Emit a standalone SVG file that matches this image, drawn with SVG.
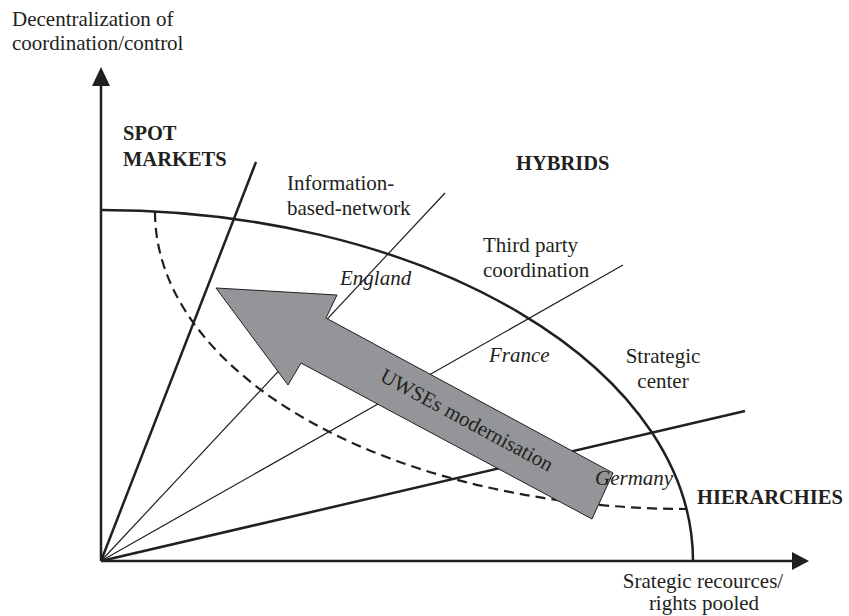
<svg xmlns="http://www.w3.org/2000/svg" width="849" height="616" viewBox="0 0 849 616">
<style>
text{font-family:"Liberation Serif","Times New Roman",serif;font-size:21px;fill:#231f20}
.b{font-weight:bold;font-size:20.5px}
.i{font-style:italic}
.m{text-anchor:middle}
.thick{stroke:#231f20;stroke-width:2.5;fill:none}
.thin{stroke:#231f20;stroke-width:1.2;fill:none}
.dash{stroke:#231f20;stroke-width:2.2;fill:none;stroke-dasharray:10 6}
</style>
<rect width="849" height="616" fill="#fff"/>
<g id="connectors">
  <line class="thick" x1="101" y1="561" x2="101" y2="84"/>
  <polygon points="101,67 92,86 110,86" fill="#231f20"/>
  <line class="thick" x1="101" y1="561" x2="793" y2="561"/>
  <polygon points="809,561 792,552 792,570" fill="#231f20"/>
  <line class="thick" x1="101" y1="561" x2="256" y2="162"/>
  <line class="thin" x1="101" y1="561" x2="445" y2="193"/>
  <line class="thin" x1="101" y1="561" x2="623" y2="265"/>
  <line class="thick" x1="101" y1="561" x2="745" y2="411"/>
  <path class="thick" d="M101,210 A592,351 0 0 1 693,561"/>
  <path class="dash" d="M155,212 A532,297 0 0 0 687,509"/>
</g>
<g id="big-arrow">
  <polygon points="216,288 337,295 326,318 613,473 592,519 301,363 288,385" fill="#939598" stroke="#231f20" stroke-width="1"/>
  <text transform="translate(467,420) rotate(28.4)" x="0" y="7" class="m">UWSEs modernisation</text>
</g>
<g id="y-axis-label">
  <text x="12" y="26">Decentralization of</text>
  <text x="12" y="50">coordination/control</text>
</g>
<g id="x-axis-label">
  <text x="703" y="588" class="m">Srategic recources/</text>
  <text x="704" y="610" class="m">rights pooled</text>
</g>
<g id="spot-markets">
  <text x="123" y="140" class="b">SPOT</text>
  <text x="123" y="166" class="b">MARKETS</text>
</g>
<g id="hybrids"><text x="516" y="170" class="b">HYBRIDS</text></g>
<g id="hierarchies"><text x="697" y="504" class="b">HIERARCHIES</text></g>
<g id="information-network">
  <text x="287" y="190">Information-</text>
  <text x="287" y="215">based-network</text>
</g>
<g id="third-party">
  <text x="483" y="252">Third party</text>
  <text x="483" y="277">coordination</text>
</g>
<g id="strategic-center">
  <text x="663" y="363" class="m">Strategic</text>
  <text x="663" y="388" class="m">center</text>
</g>
<g id="england"><text x="340" y="285" class="i">England</text></g>
<g id="france"><text x="489" y="362" class="i">France</text></g>
<g id="germany"><text x="595" y="485" class="i">Germany</text></g>
</svg>
